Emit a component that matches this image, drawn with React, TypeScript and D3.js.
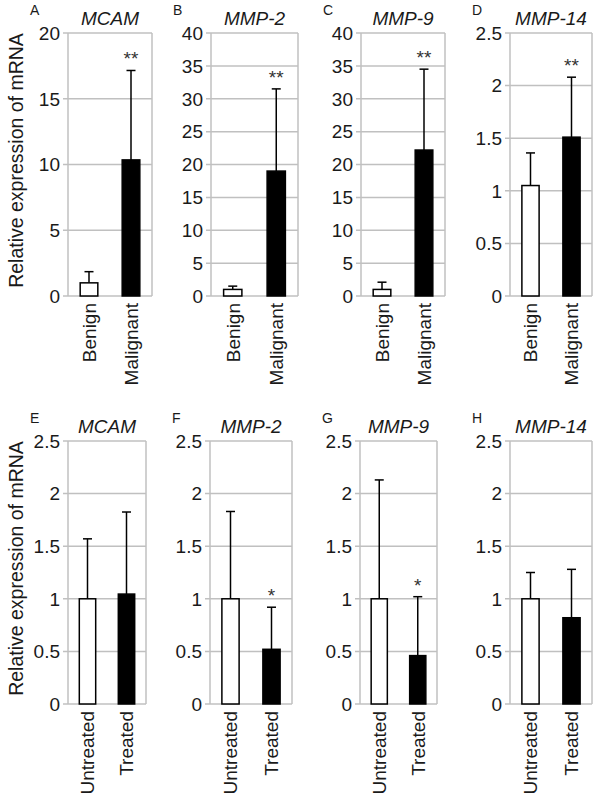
import React from "react";
import * as d3 from "d3";

// ---- Data ----
const genes = ["MCAM", "MMP-2", "MMP-9", "MMP-14"];
const topLetters = ["A", "B", "C", "D"];
const bottomLetters = ["E", "F", "G", "H"];
const topGroups = ["Benign", "Malignant"];
const bottomGroups = ["Untreated", "Treated"];

const topMeans = [
  [1.0, 10.35],
  [1.0, 19.0],
  [1.0, 22.2],
  [1.05, 1.51],
];
const topSD = [
  [0.85, 6.8],
  [0.5, 12.5],
  [1.1, 12.3],
  [0.31, 0.57],
];
const topYMax = [20, 40, 40, 2.5];
const topTickStep = [5, 5, 5, 0.5];
const topStars = [
  ["", "**"],
  ["", "**"],
  ["", "**"],
  ["", "**"],
];

const bottomMeans = [
  [1.0, 1.045],
  [1.0, 0.52],
  [1.0, 0.46],
  [1.0, 0.82],
];
const bottomSD = [
  [0.57, 0.78],
  [0.83, 0.4],
  [1.13, 0.56],
  [0.25, 0.46],
];
const bottomYMax = [2.5, 2.5, 2.5, 2.5];
const bottomTickStep = [0.5, 0.5, 0.5, 0.5];
const bottomStars = [
  ["", ""],
  ["", "*"],
  ["", "*"],
  ["", ""],
];

const yTitle = "Relative expression of mRNA";

// ---- Layout ----
const FONT = "'Liberation Sans', Arial, Helvetica, sans-serif";
const TEXT = "#1a1a1a";
const GRID = "#c0c0c0";

const rows = [
  {
    letters: topLetters,
    groups: topGroups,
    means: topMeans,
    sd: topSD,
    ymax: topYMax,
    step: topTickStep,
    stars: topStars,
    y0: 296,
    y1: 33,
    lefts: [68, 211, 361, 510],
    rights: [152, 298, 445, 592],
  },
  {
    letters: bottomLetters,
    groups: bottomGroups,
    means: bottomMeans,
    sd: bottomSD,
    ymax: bottomYMax,
    step: bottomTickStep,
    stars: bottomStars,
    y0: 704,
    y1: 441,
    lefts: [68, 210, 360, 510],
    rights: [146, 292, 437, 592],
  },
];

function fmt(v: number) {
  return String(+v.toFixed(2));
}

function Panel({ row, i }: { row: any; i: number }) {
  const left = row.lefts[i];
  const right = row.rights[i];
  const y = d3.scaleLinear().domain([0, row.ymax[i]]).range([row.y0, row.y1]);
  const x = d3
    .scaleBand<string>()
    .domain(row.groups)
    .range([left, right])
    .paddingInner(0.58)
    .paddingOuter(0.29);
  const ticks = d3.range(0, row.ymax[i] + row.step[i] / 2, row.step[i]);
  const cap = 4.5;
  return (
    <g>
      {/* letter */}
      <text
        x={left - 38}
        y={row.y1 - 18}
        fontSize={14}
        fill={TEXT}
        fontFamily={FONT}
      >
        {row.letters[i]}
      </text>
      {/* title */}
      <text
        x={(left + right) / 2}
        y={row.y1 - 8}
        fontSize={19}
        fontStyle="italic"
        textAnchor="middle"
        fill={TEXT}
        fontFamily={FONT}
      >
        {genes[i]}
      </text>
      {/* gridlines + ticks */}
      {ticks.map((t: number) => (
        <g key={t}>
          <line
            x1={left - 5}
            x2={right}
            y1={y(t)}
            y2={y(t)}
            stroke={GRID}
            strokeWidth={1.5}
          />
          <text
            x={left - 8}
            y={y(t)}
            dy="0.36em"
            fontSize={19}
            textAnchor="end"
            fill={TEXT}
            fontFamily={FONT}
          >
            {fmt(t)}
          </text>
        </g>
      ))}
      <line x1={left} x2={left} y1={row.y0} y2={row.y1} stroke={GRID} strokeWidth={1.5} />
      <line x1={right} x2={right} y1={row.y0} y2={row.y1} stroke={GRID} strokeWidth={1.5} />
      {/* bars */}
      {row.groups.map((g: string, j: number) => {
        const m = row.means[i][j];
        const e = m + row.sd[i][j];
        const bx = x(g)!;
        const bw = x.bandwidth();
        const cx = bx + bw / 2;
        return (
          <g key={g}>
            <line x1={cx} x2={cx} y1={y(m)} y2={y(e)} stroke="#000" strokeWidth={1.5} />
            <line x1={cx - cap} x2={cx + cap} y1={y(e)} y2={y(e)} stroke="#000" strokeWidth={1.5} />
            <rect
              x={bx}
              y={y(m)}
              width={bw}
              height={row.y0 - y(m)}
              fill={j === 0 ? "#fff" : "#000"}
              stroke="#000"
              strokeWidth={1.5}
            />
            {row.stars[i][j] ? (
              <text
                x={cx}
                y={y(e) - 5}
                fontSize={19}
                textAnchor="middle"
                fill="#333"
                fontFamily={FONT}
              >
                {row.stars[i][j]}
              </text>
            ) : null}
            <text
              transform={`translate(${cx},${row.y0 + 7}) rotate(-90)`}
              dy="0.36em"
              fontSize={19}
              textAnchor="end"
              fill={TEXT}
              fontFamily={FONT}
            >
              {g}
            </text>
          </g>
        );
      })}
    </g>
  );
}

export default function App() {
  return (
    <svg
      width={600}
      height={805}
      style={{ position: "absolute", left: 0, top: 0, background: "#fff" }}
    >
      <rect width={600} height={805} fill="#fff" />
      {rows.map((row, r) => (
        <g key={r}>
          <text
            transform={`translate(16,${(row.y0 + row.y1) / 2 - 4}) rotate(-90)`}
            dy="0.36em"
            fontSize={19.5}
            textAnchor="middle"
            fill={TEXT}
            fontFamily={FONT}
          >
            {yTitle}
          </text>
          {genes.map((_, i) => (
            <Panel key={i} row={row} i={i} />
          ))}
        </g>
      ))}
    </svg>
  );
}
